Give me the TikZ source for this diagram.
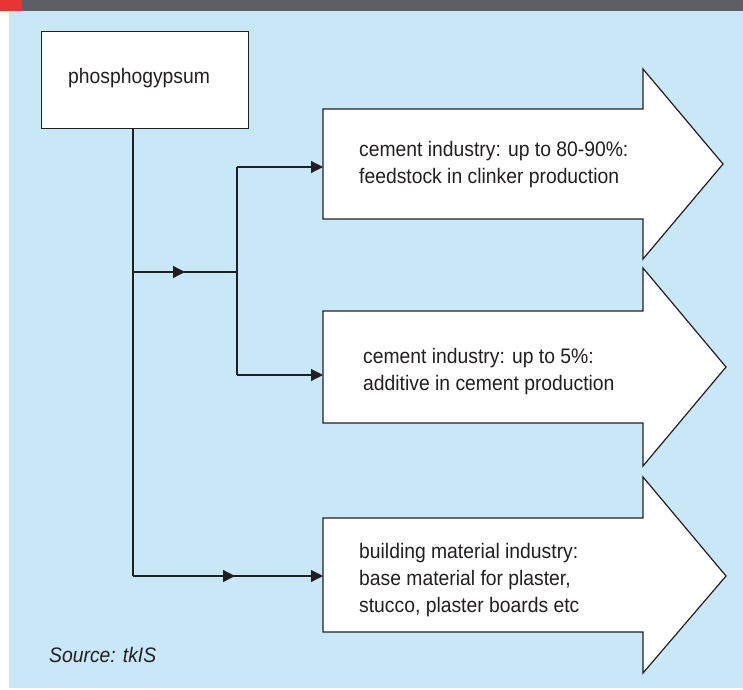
\documentclass[tikz,border=0pt]{standalone}
\usepackage{fontspec}
\setmainfont{Liberation Sans}[FakeStretch=0.92]
\usetikzlibrary{arrows.meta,decorations.markings}
\definecolor{panelblue}{RGB}{201,232,247}
\definecolor{headgray}{RGB}{92,95,99}
\definecolor{headred}{RGB}{232,52,52}
\definecolor{ink}{RGB}{35,31,32}
\tikzset{
  lbl/.style={anchor=base west, inner sep=0pt, align=left, text=ink,
    font=\fontsize{21}{27}\selectfont},
  flowarrow/.style={draw=ink, line width=1.2pt, fill=white, line join=miter},
  conn/.style={draw=ink, line width=1.2pt},
  tip/.style={-{Triangle[length=12pt,width=12pt]}},
  midtip/.style={postaction={decorate}, decoration={markings,
    mark=at position #1 with {\arrow{Triangle[length=12pt,width=12pt]}}}}
}
\begin{document}
\begin{tikzpicture}[x=1pt,y=-1pt]
\useasboundingbox (0,0) rectangle (743,689);
% frame: header bar and panel
\fill[panelblue] (9,11) rectangle (743,688);
\fill[headgray] (0,0) rectangle (743,11);
\fill[headred] (0,0) rectangle (22,11);

% source box
\node[draw=ink, line width=1.2pt, fill=white, minimum width=207pt, minimum height=97pt,
  anchor=north west, inner sep=0pt] (src) at (41,31) {};
\node[lbl] (srclbl) at (68,83) {phosphogypsum};

% block arrows
\draw[flowarrow] (323,109) -- (643,109) -- (643,69) -- (723,164) -- (643,259) -- (643,219) -- (323,219) -- cycle;
\draw[flowarrow] (323,311) -- (643,311) -- (643,268) -- (726,367) -- (643,466) -- (643,423) -- (323,423) -- cycle;
\draw[flowarrow] (323,518) -- (643,518) -- (643,477) -- (726,576) -- (643,673) -- (643,632) -- (323,632) -- cycle;

% labels, placed by the baseline of their last line
\node[lbl] (t1) at (359,183) {cement industry: up to 80-90\%:\\feedstock in clinker production};
\node[lbl] (t2) at (363,390) {cement industry: up to 5\%:\\additive in cement production};
\node[lbl] (t3) at (359,612) {building material industry:\\base material for plaster,\\stucco, plaster boards etc};

% connector end points
\coordinate (trunktop) at (133,128);
\coordinate (trunkbend) at (133,576);
\coordinate (split) at (133,272);
\coordinate (fork) at (237,272);
\coordinate (forktop) at (237,167);
\coordinate (forkbot) at (237,375);
\coordinate (in1) at (323,167);
\coordinate (in2) at (323,375);
\coordinate (in3) at (323,576);

% connectors
\draw[conn] (trunktop) -- (trunkbend);
\draw[conn, midtip=0.5] (split) -- (fork);
\draw[conn] (forktop) -- (forkbot);
\draw[conn, tip] (forktop) -- (in1);
\draw[conn, tip] (forkbot) -- (in2);
\draw[conn, tip, midtip=0.537] (trunkbend) -- (in3);

\node[anchor=base west, inner sep=0pt, text=ink,
  font=\fontsize{21}{24}\selectfont\itshape] (srcnote) at (49,662) {Source: tkIS};
\end{tikzpicture}
\end{document}
